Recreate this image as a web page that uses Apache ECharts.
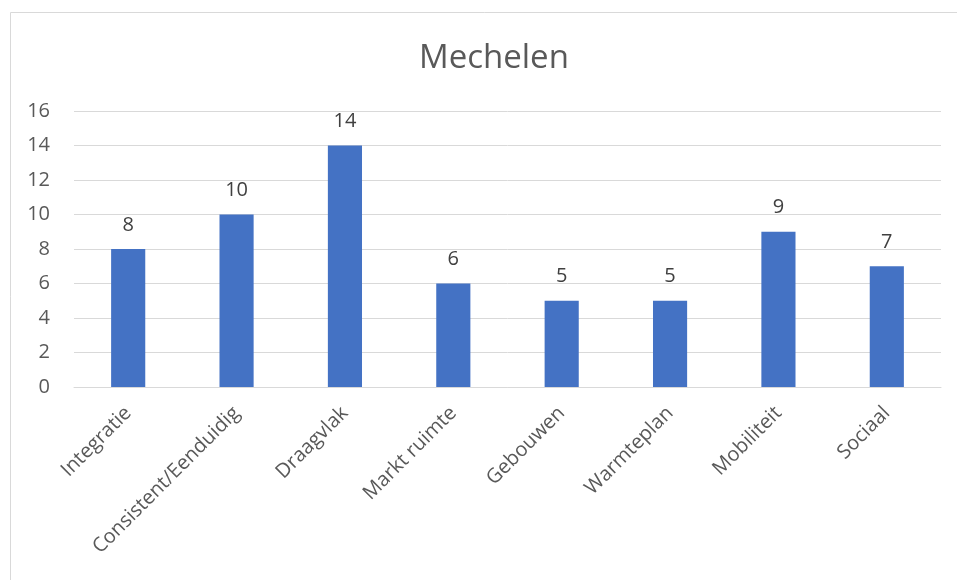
<!DOCTYPE html>
<html>
<head>
<meta charset="utf-8">
<script src="https://cdn.jsdelivr.net/npm/echarts@6/dist/echarts.min.js"></script>
<style>
  html, body { margin: 0; padding: 0; background: #fff; }
  #chart { width: 957px; height: 580px; }
</style>
</head>
<body>
<div id="chart"></div>
<script>
const categories = ['Integratie', 'Consistent/Eenduidig', 'Draagvlak', 'Markt ruimte', 'Gebouwen', 'Warmteplan', 'Mobiliteit', 'Sociaal']
const values = [8, 10, 14, 6, 5, 5, 9, 7]

const textColor = '#595959'
const font = 'Open Sans'

const chart = echarts.init(document.getElementById('chart'))

chart.setOption({
  animation: false,
  textStyle: { fontFamily: font },
  graphic: [
    {
      type: 'rect',
      shape: { x: 10.5, y: 12.5, width: 960, height: 600 },
      style: { fill: 'none', stroke: '#d9d9d9', lineWidth: 1 },
      silent: true
    }
  ],
  title: {
    text: 'Mechelen',
    left: 414,
    top: 37,
    textStyle: { fontSize: 33, fontWeight: 'normal', color: textColor, fontFamily: font }
  },
  grid: {
    left: 74,
    right: 16,
    top: 111,
    bottom: 193,
    outerBoundsMode: 'none'
  },
  xAxis: {
    type: 'category',
    data: categories,
    axisLine: { lineStyle: { color: '#d9d9d9' } },
    axisTick: { show: false },
    axisLabel: {
      rotate: 45,
      margin: 23,
      interval: 0,
      fontSize: 20,
      color: textColor
    }
  },
  yAxis: {
    type: 'value',
    min: 0,
    max: 16,
    interval: 2,
    axisLine: { show: false },
    axisTick: { show: false },
    splitLine: { lineStyle: { color: '#d9d9d9' } },
    axisLabel: { fontSize: 20, color: textColor, margin: 24 }
  },
  series: [
    {
      type: 'bar',
      data: values,
      barWidth: '31.5%',
      itemStyle: { color: '#4472C4' },
      label: {
        show: true,
        position: 'top',
        distance: 14,
        fontSize: 20,
        color: '#404040'
      }
    }
  ]
})
</script>
</body>
</html>
